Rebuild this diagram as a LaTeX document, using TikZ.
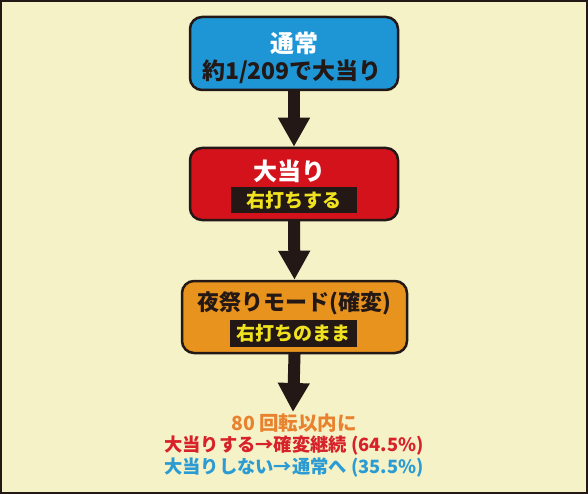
\documentclass[tikz,border=0pt]{standalone}
\usepackage{fontspec}
\setmainfont{Noto Sans CJK JP}
\usetikzlibrary{arrows.meta}
\definecolor{bg}{HTML}{F5F2C8}
\definecolor{ink}{HTML}{231815}
\definecolor{bluebox}{HTML}{1E95D5}
\definecolor{redbox}{HTML}{D3121B}
\definecolor{orangebox}{HTML}{E8931E}
\definecolor{yel}{HTML}{F0E21E}
\definecolor{txtorange}{HTML}{E9822E}
\definecolor{txtred}{HTML}{D7222A}
\definecolor{txtblue}{HTML}{2B9BD3}
\tikzset{
  x=1pt, y=-1pt,
  stagebox/.style={draw=ink, line width=2.5pt, rounded corners=12pt, inner sep=0pt},
  tag/.style={fill=ink, text=yel, inner sep=0pt, font=\fontsize{19}{19}\selectfont\bfseries},
  title/.style={font=\fontsize{23}{23}\selectfont\bfseries, inner sep=0pt},
  flow/.style={draw=ink, line width=12pt, -{Triangle[width=30pt,length=29pt]}, shorten <=-1pt},
  note/.style={font=\fontsize{18.3}{18.3}\selectfont\bfseries, inner sep=0pt}
}
\begin{document}
\begin{tikzpicture}
\useasboundingbox (0,0) rectangle (588,494);
\draw[fill=bg, draw=ink, line width=2pt] (1,1) rectangle (587,493);
% boxes
\node[stagebox, fill=bluebox, minimum width=208pt, minimum height=73pt] (b1) at (294,53.5) {};
\node[stagebox, fill=redbox, minimum width=208pt, minimum height=72pt] (b2) at (294,184) {};
\node[stagebox, fill=orangebox, minimum width=225pt, minimum height=72pt] (b3) at (294.5,317) {};
% texts
\node[title, text=white, font=\fontsize{24}{24}\selectfont\bfseries] (t1) at (294,43) {通常};
\node[title, text=ink] (s1) at (292,72) {約1/209で大当り};
\node[title, text=white, font=\fontsize{24}{24}\selectfont\bfseries] (t2) at (289,171) {大当り};
\node[tag, minimum width=126pt, minimum height=26pt] (g2) at (293.5,200) {右打ちする};
\node[title, text=ink, font=\fontsize{22}{22}\selectfont\bfseries] (t3) at (294,303) {夜祭りモード(確変)};
\node[tag, minimum width=127pt, minimum height=27pt] (g3) at (293.5,333.5) {右打ちのまま};
% arrows
\coordinate (end3) at (293,412);
\draw[flow] (b1.south) -- (b2.north);
\draw[flow] (b2.south) -- (b3.north);
\draw[flow] (b3.south) -- (end3);
% bottom notes
\node[note, text=txtorange, font=\fontsize{19.5}{19.5}\selectfont\bfseries] (n1) at (294,423) {80 回転以内に};
\node[note, text=txtred] (n2) at (294,446) {大当りする→確変継続 (64.5\%)};
\node[note, text=txtblue] (n3) at (294,468) {大当りしない→通常へ (35.5\%)};
\end{tikzpicture}
\end{document}
